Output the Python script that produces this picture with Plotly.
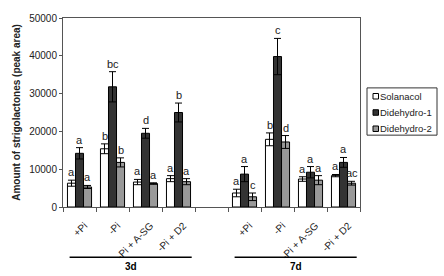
import plotly.graph_objects as go

conditions = ["+Pi", "-Pi", "-Pi + A-SG", "-Pi + D2"]
groups = ["3d", "7d"]
series = ["Solanacol", "Didehydro-1", "Didehydro-2"]

# values per group (3d, 7d), per condition
solanacol = [6300, 15400, 6600, 7500, 3700, 17900, 7400, 8300]
solanacol_err = [800, 1300, 700, 800, 1000, 1700, 600, 300]
didehydro1 = [14200, 31800, 19500, 25000, 8700, 39800, 9200, 11800]
didehydro1_err = [1500, 4000, 1300, 2500, 2000, 4800, 1500, 1300]
didehydro2 = [5300, 11800, 6200, 6700, 2700, 17200, 7100, 6300]
didehydro2_err = [400, 1200, 200, 800, 1000, 1700, 1200, 500]

letters_sol = ["a", "b", "a", "a", "a", "b", "a", "a"]
letters_d1 = ["a", "bc", "d", "b", "a", "c", "a", "a"]
letters_d2 = ["a", "b", "a", "a", "c", "d", "a", "ac"]

colors = ["#ffffff", "#333333", "#999999"]

W, H = 444, 276
ML, MR, MT, MB = 63, 84, 15, 69
PW, PH = W - ML - MR, H - MT - MB


def px(xp):
    return (xp - ML) / PW


def py(yp):
    return (H - MB - yp) / PH


# x positions: conditions of each group, with one empty slot between groups
xpos = []
for gi, g in enumerate(groups):
    for ci, c in enumerate(conditions):
        xpos.append(gi * (len(conditions) + 1) + ci)
ticktext = [c for g in groups for c in conditions]

fig = go.Figure()
vals = [solanacol, didehydro1, didehydro2]
errs = [solanacol_err, didehydro1_err, didehydro2_err]
for s, v, e, col in zip(series, vals, errs, colors):
    fig.add_trace(go.Bar(
        x=xpos, y=v, name=s, showlegend=False,
        marker=dict(color=col, line=dict(color="black", width=1)),
        error_y=dict(type="data", array=e, color="black", thickness=1, width=3.5),
    ))

letters = [letters_sol, letters_d1, letters_d2]
shifts = [-8, 0, 8]
for li, (lt, v, e) in enumerate(zip(letters, vals, errs)):
    for i, x in enumerate(xpos):
        fig.add_annotation(x=x, y=v[i] + e[i], text=lt[i], showarrow=False,
                           xref="x", yref="y", xshift=shifts[li], yshift=8,
                           font=dict(size=11, color="#222"))

# group lines and labels
for gi, g in enumerate(groups):
    xs = xpos[gi * len(conditions):(gi + 1) * len(conditions)]
    fig.add_shape(type="line", xref="x", yref="paper",
                  x0=xs[0] - 0.3, x1=xs[-1] + 0.4, y0=py(258), y1=py(258),
                  line=dict(color="black", width=1.5))
    fig.add_annotation(x=(xs[0] + xs[-1]) / 2 + 0.05, y=py(258), xref="x", yref="paper",
                       text="<b>" + g + "</b>", showarrow=False, yanchor="top", yshift=-2,
                       font=dict(size=10, color="black"))

# legend box drawn by hand (compact, like the original)
fig.add_shape(type="rect", xref="paper", yref="paper",
              x0=px(367), x1=px(437), y0=py(86), y1=py(134),
              line=dict(color="#333", width=1), fillcolor="white", layer="above")
for k, (s, col) in enumerate(zip(series, colors)):
    yc = 94.5 + k * 16.5
    fig.add_shape(type="rect", xref="paper", yref="paper",
                  x0=px(373), x1=px(378.5), y0=py(yc - 2.8), y1=py(yc + 2.8),
                  line=dict(color="black", width=1), fillcolor=col, layer="above")
    fig.add_annotation(x=px(378), y=py(yc), xref="paper", yref="paper",
                       text=s, showarrow=False, xanchor="left", yanchor="middle",
                       font=dict(size=9.5, color="#222"))

fig.update_layout(
    width=W, height=H,
    margin=dict(l=ML, r=MR, t=MT, b=MB),
    paper_bgcolor="white", plot_bgcolor="white",
    font=dict(family="Liberation Sans, Arial", size=10, color="#222"),
    barmode="group", bargap=0.27, bargroupgap=0,
    showlegend=False,
)
fig.update_xaxes(
    range=[-0.5, xpos[-1] + 0.5],
    tickmode="array", tickvals=xpos, ticktext=ticktext, tickangle=-45,
    ticks="", showgrid=False, zeroline=False,
    showline=True, linecolor="#555", linewidth=1, mirror=True,
    minor=dict(ticks="outside", tick0=-0.5, dtick=1, ticklen=4, tickcolor="#555", showgrid=False),
    tickfont=dict(size=10, color="#222"),
    ticklabelstandoff=8, ticklabelshift=5,
)
fig.update_yaxes(
    range=[0, 50000], dtick=10000, tickformat="d",
    ticks="outside", ticklen=3, tickcolor="#555",
    showgrid=False, zeroline=False,
    showline=True, linecolor="#555", linewidth=1, mirror=True,
    title=dict(text="<b>Amount of strigolactones (peak area)</b>", font=dict(size=10, color="#222"), standoff=6),
    tickfont=dict(size=10, color="#222"),
)

fig.write_html("out.html")
